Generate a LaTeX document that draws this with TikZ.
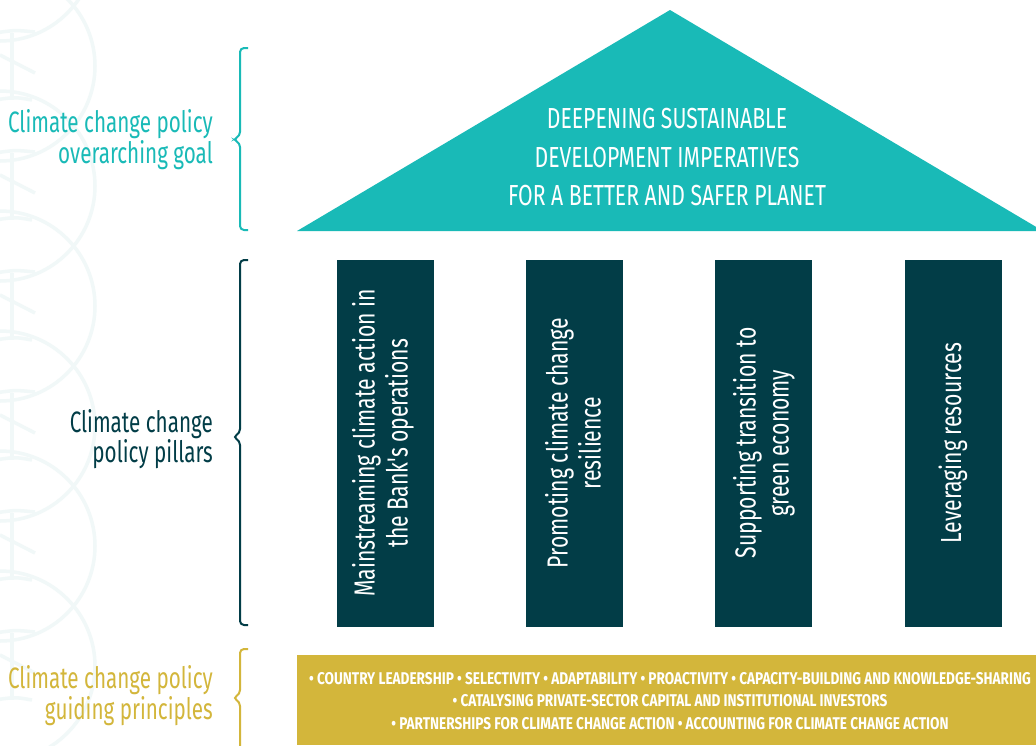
\documentclass[tikz,border=0pt]{standalone}
\usepackage{fontspec}
\newfontfamily\osw[FakeStretch=0.73]{Fira Sans}
\newfontfamily\oswl[FakeStretch=0.70]{Fira Sans}
\newfontfamily\oswb[FakeStretch=0.80]{Fira Sans Bold}
\definecolor{teal1}{HTML}{19BAB7}
\definecolor{dark1}{HTML}{023D47}
\definecolor{gold1}{HTML}{D3B63B}
\definecolor{faint}{HTML}{F1F8F8}
\begin{document}
\begin{tikzpicture}[x=1pt,y=-1pt,
  lbl/.style={anchor=base east,inner sep=0pt,font=\oswl\fontsize{29.5}{33}\selectfont},
  brace/.style={line width=2pt,rounded corners=4pt},
  pillar/.style={fill=dark1,draw=none},
  ptext/.style={rotate=90,text=white,align=center,inner sep=0pt,font=\osw\fontsize{29}{33}\selectfont},
  ttext/.style={anchor=base,text=white,inner sep=0pt,font=\osw\fontsize{29}{33}\selectfont},
  btext/.style={anchor=base,text=white,inner sep=0pt,font=\oswb\fontsize{17}{20}\selectfont},
  motif/.style={faint,line width=3.5pt}]
\useasboundingbox (0,0) rectangle (1036,745);
\fill[white] (0,0) rectangle (1036,745);
% faint background motif
\begin{scope}
\clip (0,0) rectangle (330,745);
\foreach \yy in {-87,33,153,273,393,513,633} {
  \draw[motif] (0,\yy+33) circle (95);
  \draw[motif] (12,\yy) -- (12,\yy+67);
  \draw[motif] (-5,\yy) .. controls (15,\yy-3) .. (35,\yy-1);
  \draw[motif] (-5,\yy+67) .. controls (15,\yy+64) .. (32,\yy+67);
  \draw[motif] (0,\yy+22) -- (35,\yy+40);
}
\end{scope}
% triangle goal
\begin{scope}
\clip (0,0) rectangle (1036,745);
\fill[teal1] (670,10) -- (1043,231) -- (297,231) -- cycle;
\end{scope}
\node[ttext] (g1) at (667,128) {DEEPENING SUSTAINABLE};
\node[ttext] (g2) at (667,167) {DEVELOPMENT IMPERATIVES};
\node[ttext] (g3) at (667,205) {FOR A BETTER AND SAFER PLANET};
% pillars
\fill[pillar] (337,260) rectangle (434,627);
\fill[pillar] (526,260) rectangle (623,627);
\fill[pillar] (715,260) rectangle (812,627);
\fill[pillar] (905,260) rectangle (1002,627);
\node[ptext] (p1) at (383,443) {Mainstreaming climate action in\\the Bank's operations};
\node[ptext] (p2) at (573,443) {Promoting climate change\\resilience};
\node[ptext] (p3) at (764,443) {Supporting transition to\\green economy};
\node[ptext] (p4) at (953,443) {Leveraging resources};
% principles box
\fill[gold1] (297,655) rectangle (1036,745);
\node[btext] (b1) at (670,684) {\textbullet\ COUNTRY LEADERSHIP \textbullet\ SELECTIVITY \textbullet\ ADAPTABILITY \textbullet\ PROACTIVITY \textbullet\ CAPACITY-BUILDING AND KNOWLEDGE-SHARING};
\node[btext] (b2) at (670,706) {\textbullet\ CATALYSING PRIVATE-SECTOR CAPITAL AND INSTITUTIONAL INVESTORS};
\node[btext] (b3) at (670,729) {\textbullet\ PARTNERSHIPS FOR CLIMATE CHANGE ACTION \textbullet\ ACCOUNTING FOR CLIMATE CHANGE ACTION};
% braces
\draw[brace,teal1] (248,48) -- (240,48) -- (240,136) -- (233,139.5) -- (240,143) -- (240,230) -- (248,230);
\draw[brace,dark1] (248,260) -- (240,260) -- (240,433) -- (233,437) -- (240,441) -- (240,625) -- (248,625);
\draw[brace,gold1] (248,649) -- (240,649) -- (240,694) -- (233,698) -- (240,702) -- (240,760);
% side labels
\node[lbl,text=teal1] (l1a) at (213,132) {Climate change policy};
\node[lbl,text=teal1] (l1b) at (213,163) {overarching goal};
\node[lbl,text=dark1] (l2a) at (213,432) {Climate change};
\node[lbl,text=dark1] (l2b) at (213,462) {policy pillars};
\node[lbl,text=gold1] (l3a) at (213,688) {Climate change policy};
\node[lbl,text=gold1] (l3b) at (213,719) {guiding principles};
\end{tikzpicture}
\end{document}
